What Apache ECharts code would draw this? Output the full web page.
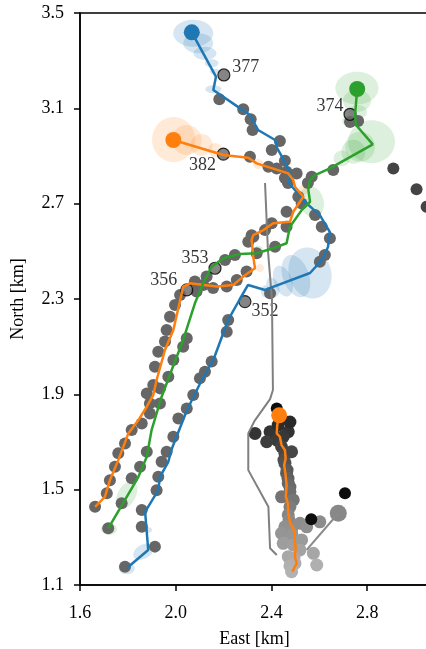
<!DOCTYPE html>
<html><head><meta charset="utf-8">
<script src="https://cdn.jsdelivr.net/npm/echarts@6/dist/echarts.min.js"></script>
<style>html,body{margin:0;padding:0;background:#fff}#c{width:426px;height:649px}</style>
</head><body><div id="c"></div>
<script>
// ---- axis ----
const X0 = 1.6, Y0 = 1.1, XMAX = 3.058, YMAX = 3.5, STEP = 0.4;
const xTickLabels = ['1.6', '2.0', '2.4', '2.8'];
const yTickLabels = ['1.1', '1.5', '1.9', '2.3', '2.7', '3.1', '3.5'];

// ---- tracks [East, North] ----
const blueTrack = [[2.067,3.419],[2.168,3.233],[2.157,3.177],[2.260,3.106],[2.310,3.072],[2.344,3.009],[2.415,2.967],[2.423,2.934],[2.456,2.875],[2.477,2.829],[2.473,2.787],[2.540,2.707],[2.602,2.652],[2.644,2.581],[2.636,2.518],[2.611,2.464],[2.561,2.409],[2.373,2.338],[2.302,2.359],[2.268,2.300],[2.219,2.212],[2.157,2.044],[2.115,1.973],[2.047,1.834],[1.984,1.673],[1.969,1.617],[1.934,1.554],[1.927,1.498],[1.872,1.407],[1.885,1.247],[1.795,1.170]];
const orangeTrack = [[1.990,2.967],[2.199,2.904],[2.303,2.893],[2.338,2.869],[2.470,2.827],[2.491,2.799],[2.498,2.771],[2.533,2.729],[2.491,2.666],[2.477,2.624],[2.407,2.618],[2.366,2.589],[2.324,2.568],[2.317,2.548],[2.324,2.477],[2.331,2.429],[2.282,2.394],[2.240,2.359],[2.171,2.352],[2.059,2.366],[2.031,2.352],[2.025,2.324],[1.990,2.170],[1.955,2.086],[1.920,1.960],[1.906,1.897],[1.879,1.848],[1.844,1.792],[1.802,1.736],[1.760,1.624],[1.725,1.540],[1.704,1.470],[1.663,1.428]];
const greenTrack = [[2.758,3.181],[2.749,3.072],[2.753,3.030],[2.823,2.949],[2.644,2.848],[2.582,2.820],[2.561,2.799],[2.554,2.757],[2.561,2.708],[2.526,2.673],[2.477,2.603],[2.463,2.534],[2.407,2.513],[2.338,2.492],[2.268,2.489],[2.199,2.471],[2.150,2.435],[2.115,2.366],[2.080,2.282],[2.031,2.128],[1.983,2.002],[1.941,1.890],[1.899,1.750],[1.879,1.638],[1.844,1.554],[1.788,1.457],[1.718,1.338]];

// ---- uncertainty ellipses [East, North, widthKm, heightKm, angleDeg] ----
const blueEllipses = [[2.073,3.415,0.167,0.113,0],[2.094,3.373,0.125,0.084,0],[2.122,3.331,0.096,0.055,0],[2.150,3.289,0.058,0.034,0],[2.164,3.254,0.042,0.025,0],[2.157,3.180,0.067,0.034,0],[2.561,2.409,0.175,0.218,20],[2.502,2.396,0.109,0.185,20],[2.448,2.375,0.075,0.134,20],[2.406,2.350,0.050,0.084,20],[2.373,2.333,0.033,0.050,0],[1.865,1.240,0.092,0.059,30],[1.795,1.170,0.067,0.050,0],[1.884,1.331,0.033,0.025,0]];
const orangeEllipses = [[1.991,2.969,0.180,0.189,0],[2.046,2.967,0.125,0.126,0],[2.108,2.946,0.092,0.092,0],[2.164,2.925,0.058,0.059,0],[2.344,2.866,0.042,0.042,0],[2.352,2.430,0.033,0.034,0],[2.533,2.757,0.042,0.042,0]];
const greenEllipses = [[2.757,3.185,0.180,0.138,0],[2.757,3.131,0.117,0.092,0],[2.761,3.085,0.075,0.059,0],[2.818,2.960,0.196,0.180,0],[2.770,2.939,0.125,0.126,0],[2.742,2.918,0.100,0.101,0],[2.693,2.890,0.067,0.067,0],[2.720,3.047,0.050,0.042,0],[2.568,2.708,0.100,0.134,15],[2.344,2.506,0.042,0.034,0],[1.795,1.478,0.075,0.126,-30],[1.721,1.335,0.067,0.050,0],[1.879,1.655,0.025,0.025,0]];

// ---- observations ----
const obsBlue = [[2.182,3.138],[2.282,3.096],[2.313,3.054],[2.321,3.009],[2.435,2.963],[2.401,2.925],[2.456,2.880],[2.463,2.834],[2.505,2.827],[2.469,2.787],[2.512,2.729],[2.526,2.701],[2.582,2.652],[2.610,2.603],[2.644,2.555],[2.623,2.485],[2.602,2.456],[2.394,2.324],[2.219,2.212],[2.213,2.163],[2.150,2.038],[2.122,1.995],[2.101,1.967],[2.073,1.897],[2.046,1.841],[2.011,1.799],[1.990,1.722],[1.962,1.659],[1.941,1.617],[1.927,1.554],[1.920,1.498],[1.858,1.415],[1.858,1.344],[1.913,1.261],[1.788,1.177]];
const obsOrange = [[2.310,2.897],[2.387,2.855],[2.422,2.848],[2.456,2.808],[2.463,2.666],[2.463,2.603],[2.401,2.618],[2.373,2.589],[2.324,2.561],[2.303,2.540],[2.317,2.568],[2.296,2.415],[2.255,2.380],[2.213,2.352],[2.156,2.346],[2.087,2.331],[2.080,2.373],[2.018,2.317],[1.997,2.275],[1.976,2.226],[1.962,2.170],[1.955,2.122],[1.927,2.079],[1.913,2.016],[1.906,1.939],[1.879,1.904],[1.892,1.862],[1.858,1.778],[1.816,1.750],[1.788,1.694],[1.760,1.653],[1.746,1.596],[1.725,1.540],[1.712,1.485],[1.663,1.428]];
const obsGreen = [[2.568,2.813],[2.552,2.787],[2.658,2.841],[2.728,3.043],[2.762,3.047],[2.338,2.492],[2.415,2.519],[2.247,2.485],[2.206,2.464],[2.129,2.394],[2.115,2.359],[2.046,2.135],[2.031,2.100],[1.990,2.044],[1.969,1.974],[1.934,1.925],[1.934,1.862],[1.892,1.820],[1.879,1.659],[1.851,1.596],[1.816,1.548],[1.774,1.443],[1.718,1.338]];
const farDots = [[2.909,2.848],[3.006,2.760],[3.048,2.687]];

// ---- labelled observations ----
const labelNames = ['377','382','374','353','356','352'];
const labelPoints = [[2.201,3.240],[2.199,2.908],[2.728,3.075],[2.164,2.429],[2.046,2.338],[2.289,2.289]];

// ---- reference path & cluster ----
const grayPath = [[2.373,2.787],[2.385,2.506],[2.402,2.296],[2.406,1.918],[2.394,1.880],[2.330,1.790],[2.303,1.736],[2.303,1.582],[2.387,1.428],[2.394,1.254],[2.422,1.226]];
const graySpur = [[2.547,1.247],[2.679,1.401]];
const spurEnd = [[2.679,1.401]];
const clusterDots = [[2.331,1.736],[2.394,1.743],[2.407,1.736],[2.470,1.743],[2.449,1.722],[2.428,1.771],[2.477,1.784],[2.423,1.708],[2.380,1.701],[2.442,1.680],[2.456,1.653],[2.484,1.659],[2.452,1.624],[2.456,1.611],[2.465,1.582],[2.463,1.569],[2.469,1.548],[2.470,1.527],[2.477,1.511],[2.477,1.491],[2.442,1.470],[2.491,1.457],[2.477,1.428],[2.470,1.394],[2.473,1.373],[2.456,1.344],[2.442,1.317],[2.484,1.331],[2.519,1.359],[2.547,1.344],[2.602,1.365],[2.486,1.310],[2.449,1.275],[2.491,1.268],[2.526,1.289],[2.519,1.247],[2.575,1.233],[2.470,1.219],[2.494,1.213],[2.498,1.191],[2.589,1.184],[2.477,1.180],[2.484,1.156]];
const blackDots = [[2.422,1.841],[2.566,1.376],[2.707,1.485]];
const clusterTrack = [[2.432,1.812],[2.424,1.771],[2.422,1.736],[2.435,1.722],[2.442,1.687],[2.456,1.666],[2.459,1.631],[2.453,1.603],[2.459,1.561],[2.463,1.519],[2.460,1.470],[2.468,1.443],[2.470,1.401],[2.477,1.365],[2.487,1.344],[2.498,1.324],[2.495,1.289],[2.501,1.261],[2.498,1.219],[2.505,1.191],[2.487,1.156]];
const clusterStart = [[2.432,1.812]];

// ---- build ----
const P = d => [d[0] - X0, d[1] - Y0];
const FONT = 'Liberation Serif';
const BLUE = '#1f77b4', ORANGE = '#ff7f0e', GREEN = '#2ca02c';
const labelOffsets = {'377':[22,-8],'382':[-21,11],'374':[-20,-8],'353':[-20,-10],'356':[-23,-10],'352':[20,10]};

function ellipses(list, rgba) {
  return {
    type: 'custom', silent: true, animation: false,
    data: list.map(d => [d[0]-X0, d[1]-Y0, d[2], d[3], d[4]]),
    encode: {x: 0, y: 1},
    renderItem: (params, api) => {
      const c = api.coord([api.value(0), api.value(1)]);
      const s = api.size([api.value(2), api.value(3)]);
      return {type: 'ellipse', x: c[0], y: c[1], rotation: api.value(4) * Math.PI / 180,
        shape: {cx: 0, cy: 0, rx: s[0] / 2, ry: s[1] / 2}, style: {fill: rgba}};
    }
  };
}
function line(list, color, width) {
  return {type: 'line', data: list.map(P), showSymbol: false, symbol: 'none', silent: true, animation: false,
    lineStyle: {color: color, width: width}};
}
function dots(list, color, size, extra) {
  return Object.assign({type: 'scatter', data: list.map(P), symbolSize: size, silent: true, animation: false,
    itemStyle: {color: color, opacity: 1}}, extra || {});
}

const series = [];
series.push(ellipses(blueEllipses, 'rgba(31,119,180,0.19)'));
series.push(ellipses(orangeEllipses, 'rgba(255,127,14,0.16)'));
series.push(ellipses(greenEllipses, 'rgba(44,160,44,0.16)'));
series.push(line(grayPath, '#808080', 2));
series.push(line(graySpur, '#8a8a8a', 2));
series.push(dots(obsBlue, '#666666', 12));
series.push(dots(obsOrange, '#666666', 12));
series.push(dots(obsGreen, '#666666', 12));
series.push(dots(farDots, '#444444', 12));
const clusterIdx = series.length;
series.push(dots(clusterDots, '#777', 13));
series.push(dots(spurEnd, '#888888', 17));
series.push(dots(blackDots, '#0d0d0d', 12));
series.push(line(blueTrack, BLUE, 2.5));
series.push(line(orangeTrack, ORANGE, 2.5));
series.push(line(greenTrack, GREEN, 2.5));
series.push({type: 'scatter', silent: true, animation: false, symbolSize: 12,
  itemStyle: {color: '#666666', borderColor: '#000', borderWidth: 1.2},
  data: labelPoints.map((d, i) => ({name: labelNames[i], value: P(d),
    label: {show: true, position: 'inside', offset: labelOffsets[labelNames[i]], formatter: labelNames[i],
      fontFamily: FONT, fontSize: 18, color: '#000'}}))});
series.push(dots([blueTrack[0]], BLUE, 16));
series.push(dots([orangeTrack[0]], ORANGE, 16));
series.push(dots([greenTrack[0]], GREEN, 16));
series.push(line(clusterTrack, ORANGE, 2.5));
series.push(dots(clusterStart, ORANGE, 16));

const isTick = v => Math.abs(v / STEP - Math.round(v / STEP)) < 1e-6;
const axisCommon = {
  type: 'value', interval: STEP, splitLine: {show: false},
  axisLine: {show: true, lineStyle: {color: '#000', width: 1.5}},
  axisTick: {show: true, inside: false, length: 6, lineStyle: {color: '#000', width: 1.5}},
  nameLocation: 'middle', nameTextStyle: {fontFamily: FONT, fontSize: 18, color: '#000'}
};
const option = {
  backgroundColor: '#fff',
  animation: false,
  grid: {left: 80, top: 13, right: -3, bottom: 64, show: true, borderColor: '#000', borderWidth: 1.5,
    containLabel: false, outerBoundsMode: 'none'},
  xAxis: Object.assign({}, axisCommon, {min: 0, max: XMAX - X0, name: 'East [km]', nameGap: 45,
    axisLabel: {fontFamily: FONT, fontSize: 18, color: '#000', margin: 19, showMaxLabel: false,
      formatter: v => isTick(v) ? xTickLabels[Math.round(v / STEP)] || '' : ''}}),
  yAxis: Object.assign({}, axisCommon, {min: 0, max: YMAX - Y0, name: 'North [km]', nameGap: 53,
    axisLabel: {fontFamily: FONT, fontSize: 18, color: '#000', margin: 16,
      formatter: v => isTick(v) ? yTickLabels[Math.round(v / STEP)] || '' : ''}}),
  visualMap: {type: 'continuous', show: false, seriesIndex: clusterIdx, dimension: 1,
    min: 1.17 - Y0, max: 1.78 - Y0, inRange: {color: ['#b2b2b2', '#8a8a8a', '#5a5a5a', '#2a2a2a']}},
  series: series
};
const chart = echarts.init(document.getElementById('c'), null, {renderer: 'canvas'});
chart.setOption(option);
</script>
</body></html>
